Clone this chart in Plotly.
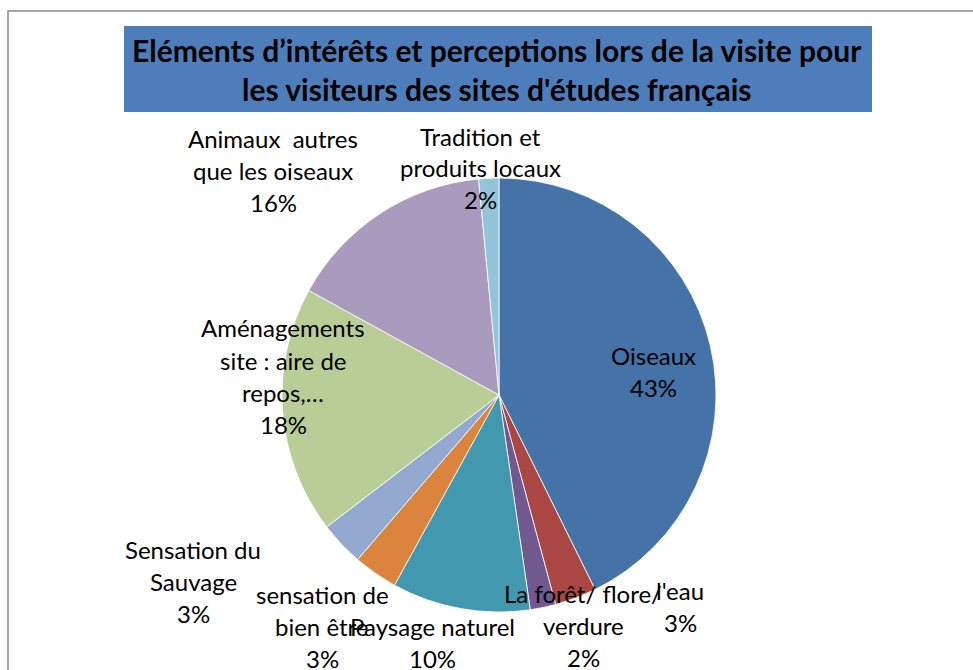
import plotly.graph_objects as go

# ---- data ----
categories = [
    "Oiseaux",
    "l'eau",
    "La forêt/ flore/\nverdure",
    "Paysage naturel",
    "sensation de\nbien être",
    "Sensation du\nSauvage",
    "Aménagements\nsite : aire de\nrepos,…",
    "Animaux  autres\nque les oiseaux",
    "Tradition et\nproduits locaux",
]
values = [42.7, 3.1, 1.9, 10.3, 3.3, 3.3, 18.4, 15.5, 1.5]
colors = ["#4572A7", "#AA4643", "#71588F", "#4198AF", "#DB843D",
          "#93A9CF", "#B9CD96", "#A99BBD", "#93C4D8"]
title_lines = ["Eléments d’intérêts et perceptions lors de la visite pour",
               "les visiteurs des sites d'études français"]

W, H = 973, 670
def px(x): return x / W
def py(y): return 1 - y / H

# label anchor positions (pixel centre of first line), layout only
label_pos = [(653, 355), (680, 590), (583, 593), (432, 626), (322, 594),
             (193, 549), (283, 328), (273, 138), (480, 136)]
LINE = 32

cx, cy, r = 499, 395, 217
fig = go.Figure(go.Pie(
    labels=[c.replace("\n", " ") for c in categories],
    values=values,
    sort=False, direction="clockwise", rotation=0,
    marker=dict(colors=colors, line=dict(color="white", width=0.8)),
    textinfo="none", hoverinfo="label+percent",
    domain=dict(x=[px(cx - r), px(cx + r)], y=[py(cy + r), py(cy - r)]),
    showlegend=False,
))

total = sum(values)
annotations = []
for cat, v, (x, y) in zip(categories, values, label_pos):
    lines = cat.split("\n") + [f"{round(v / total * 100)}%"]
    for i, ln in enumerate(lines):
        annotations.append(dict(
            x=px(x), y=py(y + i * LINE), xref="paper", yref="paper",
            text=ln, showarrow=False, xanchor="center", yanchor="middle",
            font=dict(family="Lato", size=24, color="#000000")))

for i, t in enumerate(title_lines):
    annotations.append(dict(
        x=px(497), y=py(50 + i * 39), xref="paper", yref="paper",
        text=f"<b>{t}</b>", showarrow=False, xanchor="center", yanchor="middle",
        font=dict(family="Lato", size=30, color="#000000")))

shapes = [
    dict(type="rect", xref="paper", yref="paper",
         x0=px(8), x1=px(990), y0=py(690), y1=py(11),
         line=dict(color="#898989", width=1.5), fillcolor="rgba(0,0,0,0)"),
    dict(type="rect", xref="paper", yref="paper", layer="below",
         x0=px(124), x1=px(872), y0=py(112), y1=py(26),
         line=dict(width=0), fillcolor="#4D7EBB"),
]

fig.update_layout(
    width=W, height=H, margin=dict(l=0, r=0, t=0, b=0),
    paper_bgcolor="white", plot_bgcolor="white",
    annotations=annotations, shapes=shapes,
)
fig.write_html("out.html", post_script="document.body.style.margin='0px';",
               config={"displayModeBar": False})
